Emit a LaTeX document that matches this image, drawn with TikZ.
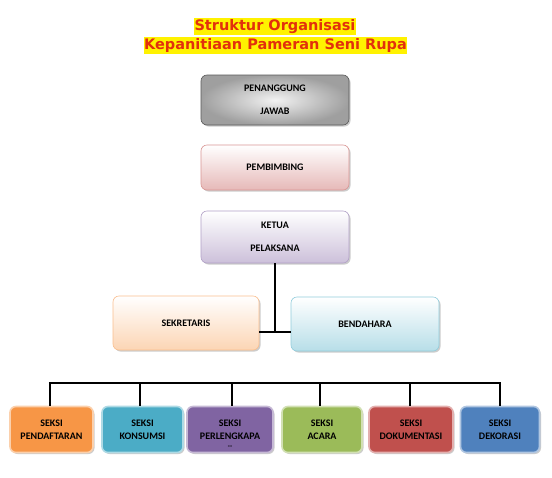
\documentclass[tikz,border=0pt]{standalone}
\usepackage{fontspec}
\setmainfont{Carlito}
\newfontfamily\titlefont{DejaVu Sans}
\usetikzlibrary{shadows}
\definecolor{titlered}{RGB}{226,48,12}
\definecolor{cOrange}{RGB}{247,150,70}
\definecolor{cCyan}{RGB}{75,172,198}
\definecolor{cPurple}{RGB}{128,100,162}
\definecolor{cGreen}{RGB}{155,187,89}
\definecolor{cRed}{RGB}{192,80,77}
\definecolor{cBlue}{RGB}{79,129,189}
\definecolor{pinkD}{RGB}{217,150,148}
\definecolor{pinkF}{RGB}{230,185,184}
\definecolor{lavD}{RGB}{178,161,199}
\definecolor{lavF}{RGB}{204,192,218}
\definecolor{peachD}{RGB}{250,191,143}
\definecolor{peachF}{RGB}{252,213,180}
\definecolor{aquaD}{RGB}{146,205,220}
\definecolor{aquaF}{RGB}{183,222,232}
\tikzset{
  lbl/.style={font=\bfseries\fontsize{10}{13}\selectfont, text=black, align=center},
  topbox/.style={lbl, rounded corners=6pt, minimum width=148pt, draw=#1, line width=0.6pt,
     drop shadow={shadow xshift=1.5pt, shadow yshift=-1.5pt, opacity=0.4}},
  secbox/.style={lbl, rounded corners=6pt, fill=#1, draw=#1!45!white, line width=1.6pt,
     minimum height=46pt,
     drop shadow={shadow xshift=1.5pt, shadow yshift=-1.5pt, opacity=0.4}},
  conn/.style={line width=2.2pt, black},
  ttl/.style={font=\titlefont\bfseries\fontsize{14.5}{16}\selectfont, text=titlered, fill=yellow,
     inner xsep=0.5pt, inner ysep=1.5pt, text height=11pt, text depth=3pt}
}
\begin{document}
\begin{tikzpicture}[x=1pt,y=-1pt]
\useasboundingbox[fill=white] (0,0) rectangle (552,477);
% title
\node[ttl] (t1) at (275,26) {Struktur Organisasi};
\node[ttl] (t2) at (275.5,45.5) {Kepanitiaan Pameran Seni Rupa};
% top boxes
\node[topbox=gray!70!black, minimum height=50pt, inner color=gray!10, outer color=gray!75] (pj) at (275,100)
  {PENANGGUNG\\[10pt]JAWAB};
\node[topbox=pinkD, minimum height=45pt, top color=white, bottom color=pinkF] (pb) at (275,167.5)
  {PEMBIMBING};
\node[topbox=lavD, minimum height=52pt, top color=white, bottom color=lavF] (kt) at (275,237)
  {KETUA\\[10pt]PELAKSANA};
\node[topbox=peachD, minimum width=146pt, minimum height=54pt, top color=white, bottom color=peachF] (sk) at (186,323)
  {SEKRETARIS};
\node[topbox=aquaD, minimum height=54pt, top color=white, bottom color=aquaF] (bd) at (365,324)
  {BENDAHARA};
% connectors top
\coordinate (j) at (275,332);
\draw[conn] (kt.south) -- (j);
\draw[conn] (sk.east |- j) -- (bd.west |- j);
% bottom boxes
\node[secbox=cOrange, minimum width=83pt] (s1) at (51.5,429.5) {SEKSI\\PENDAFTARAN};
\node[secbox=cCyan, minimum width=81pt] (s2) at (142.5,429.5) {SEKSI\\KONSUMSI};
\node[secbox=cPurple, minimum width=86pt] (s3) at (230,429.5) {SEKSI\\\raisebox{0pt}[\height][0pt]{\begin{tabular}[t]{@{}c@{}}PERLENGKAPA\\[-4pt]{\fontsize{7}{7}\selectfont -{}-}\end{tabular}}};
\node[secbox=cGreen, minimum width=80pt] (s4) at (322,429.5) {SEKSI\\ACARA};
\node[secbox=cRed, minimum width=84pt] (s5) at (411,429.5) {SEKSI\\DOKUMENTASI};
\node[secbox=cBlue, minimum width=79pt] (s6) at (500,429.5) {SEKSI\\DEKORASI};
% bus
\coordinate (busL) at (50,383);
\coordinate (busR) at (500,383);
\draw[conn] ([xshift=-1.1pt]busL) -- ([xshift=1.1pt]busR);
\foreach \n/\x in {s1/50, s2/140, s3/232, s4/320, s5/410, s6/500}{
  \draw[conn] (\x,383) -- (\x,0 |- \n.north);
}
\end{tikzpicture}
\end{document}
